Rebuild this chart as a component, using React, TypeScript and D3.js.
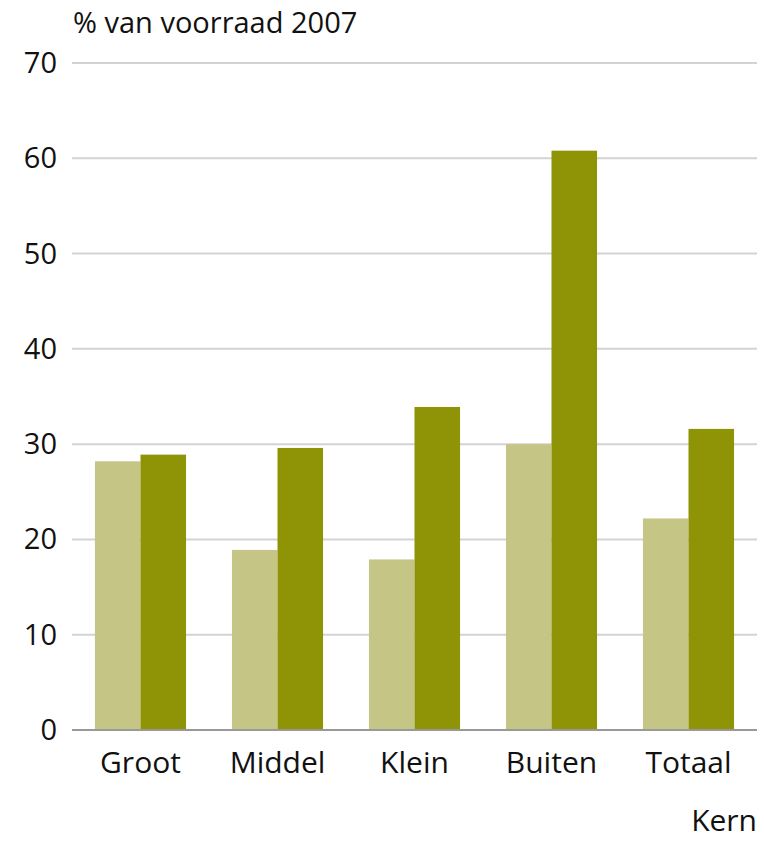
import React, { useEffect, useRef } from "react";
import * as d3 from "d3";

const categories = ["Groot", "Middel", "Klein", "Buiten", "Totaal"];
const seriesLight = [28.2, 18.9, 17.9, 30.0, 22.2];
const seriesDark = [28.9, 29.6, 33.9, 60.8, 31.6];
const yTicks = [0, 10, 20, 30, 40, 50, 60, 70];

const App: React.FC = () => {
  const svgRef = useRef<SVGSVGElement | null>(null);

  useEffect(() => {
    const width = 764;
    const height = 841;
    const margin = { left: 72, right: 7, top: 63, bottom: 111 };
    const font = "'Open Sans', sans-serif";

    const svg = d3.select(svgRef.current);
    svg.selectAll("*").remove();
    svg.attr("width", width).attr("height", height);

    const x = d3.scaleBand<string>()
      .domain(categories)
      .range([margin.left, width - margin.right])
      .paddingInner(0.335)
      .paddingOuter(0.1675);

    const y = d3.scaleLinear()
      .domain([0, 70])
      .range([height - margin.bottom, margin.top]);

    // gridlines
    svg.append("g")
      .selectAll("line")
      .data(yTicks.filter(t => t > 0))
      .join("line")
      .attr("x1", margin.left)
      .attr("x2", width - margin.right)
      .attr("y1", d => y(d))
      .attr("y2", d => y(d))
      .attr("stroke", "#d3d3d3")
      .attr("stroke-width", 2);

    // tick labels
    svg.append("g")
      .selectAll("text")
      .data(yTicks)
      .join("text")
      .attr("x", 57)
      .attr("y", d => y(d) + 10)
      .attr("text-anchor", "end")
      .style("font-family", font)
      .style("font-size", "29px")
      .attr("fill", "#111")
      .text(d => d);

    const bw = x.bandwidth() / 2;
    const rows = categories.map((c, i) => ({ c, light: seriesLight[i], dark: seriesDark[i] }));

    svg.append("g")
      .selectAll("rect")
      .data(rows)
      .join("rect")
      .attr("x", d => x(d.c)!)
      .attr("width", bw)
      .attr("y", d => y(d.light))
      .attr("height", d => y(0) - y(d.light))
      .attr("fill", "#c5c586");

    svg.append("g")
      .selectAll("rect")
      .data(rows)
      .join("rect")
      .attr("x", d => x(d.c)! + bw)
      .attr("width", bw)
      .attr("y", d => y(d.dark))
      .attr("height", d => y(0) - y(d.dark))
      .attr("fill", "#8e9406");

    // baseline
    svg.append("line")
      .attr("x1", margin.left)
      .attr("x2", width - margin.right)
      .attr("y1", y(0))
      .attr("y2", y(0))
      .attr("stroke", "#999")
      .attr("stroke-width", 2);

    // category labels
    svg.append("g")
      .selectAll("text")
      .data(categories)
      .join("text")
      .attr("x", d => x(d)! + x.bandwidth() / 2)
      .attr("y", 773)
      .attr("text-anchor", "middle")
      .style("font-family", font)
      .style("font-size", "30px")
      .attr("fill", "#111")
      .text(d => d);

    svg.append("text")
      .attr("x", 73)
      .attr("y", 33)
      .style("font-family", font)
      .style("font-size", "29px")
      .attr("fill", "#111")
      .text("% van voorraad 2007");

    svg.append("text")
      .attr("x", width - margin.right)
      .attr("y", 831)
      .attr("text-anchor", "end")
      .style("font-family", font)
      .style("font-size", "30px")
      .attr("fill", "#111")
      .text("Kern");
  }, []);

  return <svg ref={svgRef} style={{ position: "absolute", left: 0, top: 0 }}></svg>;
};

export default App;
